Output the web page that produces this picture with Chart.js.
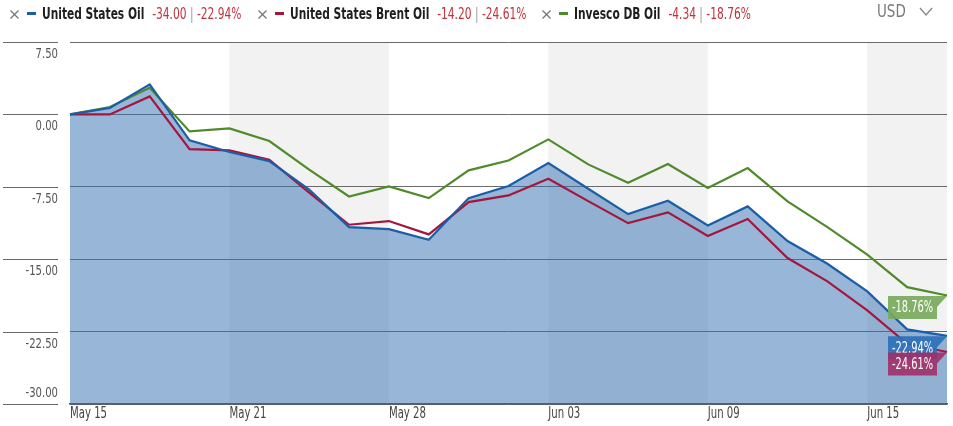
<!DOCTYPE html>
<html>
<head>
<meta charset="utf-8">
<script src="https://cdn.jsdelivr.net/npm/chart.js@4/dist/chart.umd.min.js"></script>
<style>
  html, body { margin: 0; padding: 0; background: #fff; }
  #wrap { position: relative; width: 953px; height: 426px; overflow: hidden; }
  canvas { position: absolute; left: 0; top: 0; }
  .lx { position: absolute; top: 10px; }
  .ld { position: absolute; top: 12px; width: 9px; height: 3px; }
  .lt { position: absolute; top: 4px; height: 20px; display: flex; align-items: center; white-space: nowrap;
        transform: scaleX(0.79); transform-origin: 0 50%;
        font-family: "DejaVu Sans Condensed", "DejaVu Sans", sans-serif; font-size: 15px; }
  .lt .n { font-weight: bold; color: #1e1e1e; margin-right: 10px; }
  .lt .v { color: #c1323a; }
  .lt .v .p { color: #9a9a9a; }
  #usd { position: absolute; left: 877px; top: 1px; font-family: "DejaVu Sans Condensed", "DejaVu Sans", sans-serif;
         font-size: 17px; color: #7a7a7a; transform: scaleX(0.88); transform-origin: 0 50%; }
  #chev { position: absolute; left: 919px; top: 7px; }
</style>
</head>
<body>
<div id="wrap">
  <canvas id="c" width="953" height="426"></canvas>
  <div id="legend"></div>
  <div id="usd">USD</div>
  <svg id="chev" width="14" height="10"><polyline points="1,1 7,8 13,1" fill="none" stroke="#888" stroke-width="1.3"/></svg>
</div>
<script>
// ---- data ----
const dates = ['May 15','May 18','May 19','May 20','May 21','May 22','May 26','May 27','May 28','May 29',
               'Jun 01','Jun 02','Jun 03','Jun 04','Jun 05','Jun 08','Jun 09','Jun 10','Jun 11','Jun 12',
               'Jun 15','Jun 16','Jun 17'];
const seriesNames = ['United States Oil', 'United States Brent Oil', 'Invesco DB Oil'];
const usoValues = [0, 0.66, 3.11, -2.69, -3.9, -4.84, -7.8, -11.67, -11.88, -12.99, -8.67, -7.42, -5.04,
                   -7.7, -10.33, -8.94, -11.5, -9.53, -13.12, -15.47, -18.33, -22.27, -22.94];
const bnoValues = [0, 0, 1.86, -3.59, -3.73, -4.7, -8.1, -11.43, -11.05, -12.43, -9.08, -8.39, -6.66,
                   -8.98, -11.26, -10.15, -12.6, -10.84, -14.88, -17.3, -20.3, -23.76, -24.61];
const dboValues = [0, 0.76, 2.76, -1.76, -1.45, -2.76, -5.73, -8.5, -7.46, -8.67, -5.8, -4.77, -2.59,
                   -5.18, -7.08, -5.15, -7.63, -5.56, -9.01, -11.67, -14.53, -17.9, -18.76];
const priceChanges = ['-34.00', '-14.20', '-4.34'];
const pctChanges = ['-22.94%', '-24.61%', '-18.76%'];
const yTicks = [7.5, 0, -7.5, -15, -22.5, -30];
const tickEvery = 4;

const lineColors = ['#1b5ea6', '#a3173f', '#4f8a2b'];
const boxColors = ['rgba(45,112,185,0.92)', 'rgba(160,48,104,0.9)', 'rgba(122,170,92,0.92)'];
const FONT = '"DejaVu Sans Condensed", "DejaVu Sans", sans-serif';

// ---- legend (HTML) ----
const legendX = [10, 258, 542];
const legendEl = document.getElementById('legend');
seriesNames.forEach((n, i) => {
  const L = legendX[i];
  const x = document.createElementNS('http://www.w3.org/2000/svg', 'svg');
  x.setAttribute('class', 'lx'); x.setAttribute('width', '9'); x.setAttribute('height', '9');
  x.style.left = L + 'px';
  x.innerHTML = '<line x1="0.5" y1="0.5" x2="8.5" y2="8.5" stroke="#777" stroke-width="1.2"/><line x1="8.5" y1="0.5" x2="0.5" y2="8.5" stroke="#777" stroke-width="1.2"/>';
  legendEl.appendChild(x);
  const d = document.createElement('div');
  d.className = 'ld'; d.style.left = (L + 17) + 'px'; d.style.background = lineColors[i];
  legendEl.appendChild(d);
  const t = document.createElement('div');
  t.className = 'lt'; t.style.left = (L + 32) + 'px';
  t.innerHTML = '<span class="n">' + n + '</span><span class="v">' + priceChanges[i] +
    ' <span class="p">|</span> ' + pctChanges[i] + '</span>';
  legendEl.appendChild(t);
});

function narrowText(ctx, text, x, y, align, k) {
  ctx.save();
  ctx.translate(x, y);
  ctx.scale(k, 1);
  ctx.textAlign = align;
  ctx.fillText(text, 0, 0);
  ctx.restore();
}

// ---- plugins ----
const bands = {
  id: 'bands',
  beforeDraw(chart) {
    const {ctx, chartArea: {top, bottom, right}, scales: {x}} = chart;
    ctx.save();
    ctx.fillStyle = '#f2f2f2';
    for (let t = tickEvery; t < dates.length; t += 2 * tickEvery) {
      const x0 = x.getPixelForValue(t);
      const x1 = (t + tickEvery < dates.length) ? x.getPixelForValue(t + tickEvery) : right;
      ctx.fillRect(x0, top, x1 - x0, bottom - top);
    }
    ctx.restore();
  }
};

const axisLabels = {
  id: 'axisLabels',
  afterDraw(chart) {
    const {ctx, chartArea: {bottom}, scales: {x, y}} = chart;
    ctx.save();
    ctx.textBaseline = 'middle';
    ctx.font = '14px ' + FONT;
    yTicks.forEach(v => {
      const py = Math.round(y.getPixelForValue(v)) + 0.5;
      ctx.strokeStyle = '#6a6a6a';
      ctx.lineWidth = 1;
      ctx.beginPath(); ctx.moveTo(3, py); ctx.lineTo(58, py); ctx.stroke();
      ctx.fillStyle = '#555';
      const ly = (py + 12 > bottom) ? py - 11 : py + 12;
      narrowText(ctx, v.toFixed(2), 58, ly, 'right', 0.8);
    });
    ctx.fillStyle = '#444';
    ctx.font = '15px ' + FONT;
    for (let i = 0; i < dates.length; i += tickEvery) {
      narrowText(ctx, dates[i], x.getPixelForValue(i), bottom + 10, 'left', 0.75);
    }
    ctx.restore();
  }
};

const endLabels = {
  id: 'endLabels',
  afterDatasetsDraw(chart) {
    const {ctx} = chart;
    const order = [2, 0, 1];
    ctx.save();
    order.forEach(i => {
      const meta = chart.getDatasetMeta(i);
      const pt = meta.data[meta.data.length - 1];
      const top = pt.y + 0.5, h = 23, left = 888, r = 937;
      ctx.fillStyle = boxColors[i];
      ctx.beginPath();
      ctx.moveTo(left, top);
      ctx.lineTo(pt.x, top);
      ctx.lineTo(r, top + 11);
      ctx.lineTo(r, top + h);
      ctx.lineTo(left, top + h);
      ctx.closePath();
      ctx.fill();
      ctx.fillStyle = '#fff';
      ctx.font = '15px ' + FONT;
      ctx.textBaseline = 'middle';
      narrowText(ctx, pctChanges[i], (left + r) / 2, top + h / 2 + 1, 'center', 0.73);
    });
    ctx.restore();
  }
};

new Chart(document.getElementById('c'), {
  type: 'line',
  data: {
    labels: dates,
    datasets: [
      { label: seriesNames[0], data: usoValues, borderColor: lineColors[0], borderWidth: 2.2,
        fill: 'start', backgroundColor: 'rgba(56,115,180,0.52)', pointRadius: 0, tension: 0 },
      { label: seriesNames[1], data: bnoValues, borderColor: lineColors[1], borderWidth: 2.2,
        fill: false, pointRadius: 0, tension: 0 },
      { label: seriesNames[2], data: dboValues, borderColor: lineColors[2], borderWidth: 2.2,
        fill: false, pointRadius: 0, tension: 0 }
    ]
  },
  options: {
    responsive: false,
    animation: false,
    layout: { padding: { top: 42, right: 6, left: 0, bottom: 0 } },
    plugins: {
      legend: { display: false },
      tooltip: { enabled: false },
      filler: { drawTime: 'beforeDatasetsDraw' }
    },
    scales: {
      x: {
        z: 1,
        grid: { display: false, drawTicks: false },
        border: { display: true, color: '#44576b', width: 1.5 },
        ticks: { display: false },
        afterFit: s => { s.height = 22; }
      },
      y: {
        min: yTicks[yTicks.length - 1], max: yTicks[0],
        afterBuildTicks: s => { s.ticks = yTicks.map(v => ({ value: v })); },
        grid: { color: '#6a6a6a', lineWidth: 1, drawTicks: false },
        border: { display: false },
        ticks: { display: false },
        afterFit: s => { s.width = 70; }
      }
    }
  },
  plugins: [bands, axisLabels, endLabels]
});
</script>
</body>
</html>
